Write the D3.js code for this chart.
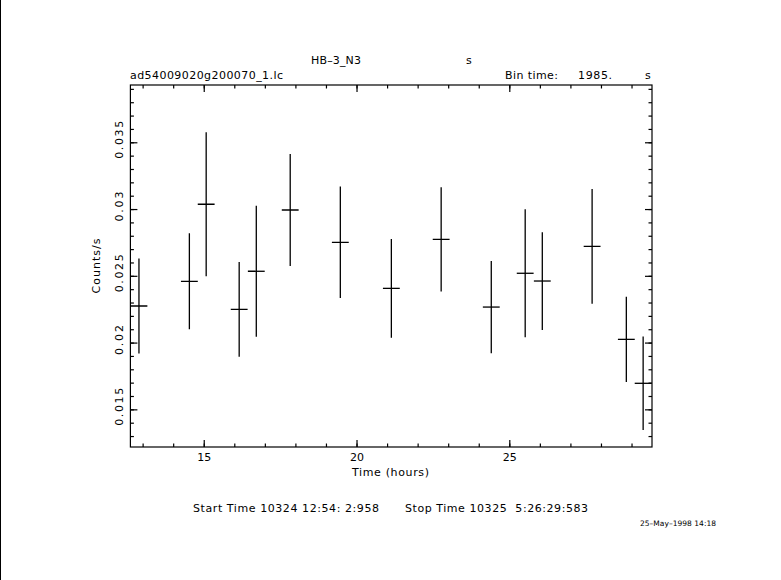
<!DOCTYPE html>
<html><head><meta charset="utf-8">
<script src="https://cdn.jsdelivr.net/npm/d3@7"></script>
<style>
html,body{margin:0;padding:0;background:#fff;}
text{font-family:"DejaVu Sans","Liberation Sans",sans-serif;fill:#000;}
</style></head>
<body>
<svg id="c" width="781" height="580"></svg>
<script>
const timeHours = [12.88,14.53,15.08,16.16,16.72,17.83,19.47,21.14,22.77,24.41,25.52,26.08,27.71,28.83,29.38];
const rate      = [0.02274,0.02459,0.03036,0.02249,0.02534,0.02993,0.02751,0.02406,0.02773,0.02266,0.02519,0.02461,0.02721,0.02024,0.01695];
const rateErr   = [0.00356,0.0036,0.0054,0.00355,0.0049,0.0042,0.00417,0.0037,0.0039,0.00345,0.0048,0.00366,0.0043,0.0032,0.0035];
const binHalfHours = 1985/3600/2;
const xMajor = [15,20,25];
const xMinor = d3.range(13,30,1);
const yMajor = [0.015,0.02,0.025,0.03,0.035];
const yMinorTicks = d3.range(13,40,1).map(d=>d/1000);
const yLabels = ["0.015","0.02","0.025","0.03","0.035"];

const svg = d3.select("#c");
const L=130.4, R=652, T=85, B=447;
const x = d3.scaleLinear().domain([12.60,29.67]).range([L,R]);
const y = d3.scaleLinear().domain([0.01218,0.03929]).range([B,T]);

svg.append("line").attr("x1",0.5).attr("x2",0.5).attr("y1",0).attr("y2",580).attr("stroke","#000").attr("stroke-width",1);

svg.append("rect").attr("x",L).attr("y",T).attr("width",R-L).attr("height",B-T)
  .attr("fill","none").attr("stroke","#000").attr("stroke-width",1.2);

function axis(gen, tr, major, minor, fmt){
  const gMin = svg.append("g").attr("transform",tr).call(gen().tickValues(minor).tickSize(-3.5).tickFormat(""));
  const gMaj = svg.append("g").attr("transform",tr).call(gen().tickValues(major).tickSize(-7).tickFormat(fmt||""));
  [gMin,gMaj].forEach(g=>{g.select(".domain").remove(); g.selectAll("line").attr("stroke","#000").attr("stroke-width",1.2);});
  return gMaj;
}
const gx = axis(()=>d3.axisBottom(x), `translate(0,${B})`, xMajor, xMinor, d=>String(d));
gx.selectAll("text").attr("font-size",11).attr("y",14).attr("dy",0).attr("font-family","DejaVu Sans");
axis(()=>d3.axisTop(x), `translate(0,${T})`, xMajor, xMinor);
const gy = axis(()=>d3.axisLeft(y), `translate(${L},0)`, yMajor, yMinorTicks, (d,i)=>yLabels[i]);
gy.selectAll("text").attr("font-size",11).attr("x",0).attr("dy",0)
  .attr("transform",`translate(${123-L},-3) rotate(-90)`)
  .attr("text-anchor","middle")
  .attr("textLength",(d,i)=>yLabels[i].length===5?38:30).attr("lengthAdjust","spacing");
axis(()=>d3.axisRight(y), `translate(${R},0)`, yMajor, yMinorTicks);

svg.append("clipPath").attr("id","pc").append("rect").attr("x",L).attr("y",T).attr("width",R-L).attr("height",B-T);
const gd = svg.append("g").attr("clip-path","url(#pc)");
timeHours.forEach((t,i)=>{
  gd.append("line").attr("x1",x(t)).attr("x2",x(t)).attr("y1",y(rate[i]-rateErr[i])).attr("y2",y(rate[i]+rateErr[i]))
    .attr("stroke","#000").attr("stroke-width",1.3);
  gd.append("line").attr("x1",x(t-binHalfHours)).attr("x2",x(t+binHalfHours)).attr("y1",y(rate[i])).attr("y2",y(rate[i]))
    .attr("stroke","#000").attr("stroke-width",1.3);
});

function txt(s,xx,yy,w,size){
  const t = svg.append("text").attr("x",xx).attr("y",yy)
    .attr("font-size",size||11).attr("xml:space","preserve").style("white-space","pre").text(s);
  if(w){t.attr("textLength",w).attr("lengthAdjust","spacing");}
  return t;
}
txt("HB\u20133_N3",311,64,50);
txt("s",466,64);
txt("ad54009020g200070_1.lc",130,79,153);
txt("Bin time:",505,79,53);
txt("1985.",578,79,34);
txt("s",645,79);
txt("Time (hours)",352,476,77);
svg.append("text").attr("transform","translate(100,266) rotate(-90)").attr("text-anchor","middle")
  .attr("font-size",11).attr("textLength",55).attr("lengthAdjust","spacing").text("Counts/s");
txt("Start Time 10324 12:54: 2:958",193,512,186);
txt("Stop Time 10325  5:26:29:583",405,512,183);
txt("25\u2013May\u20131998 14:18",640,526,76,7.5);
</script>
</body></html>
